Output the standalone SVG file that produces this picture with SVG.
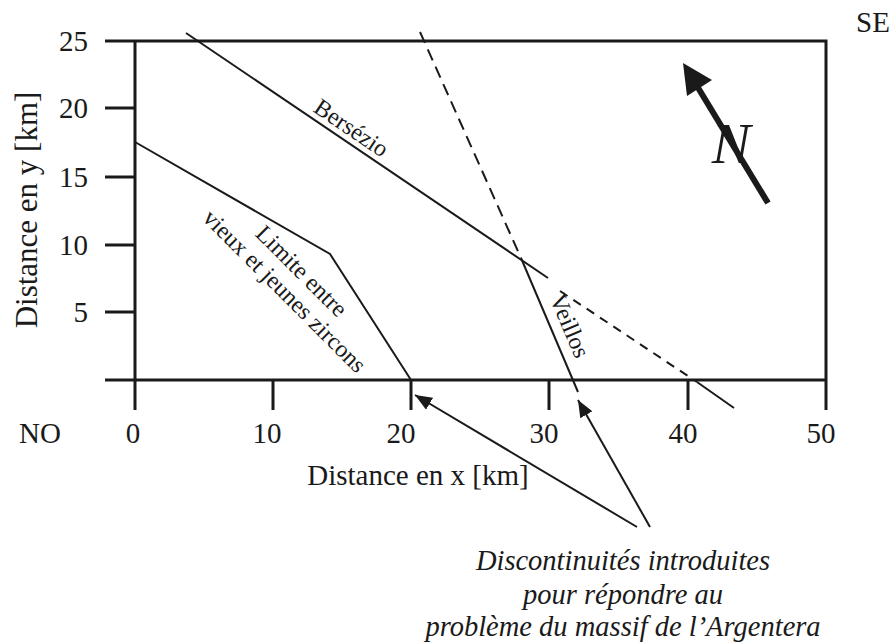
<svg xmlns="http://www.w3.org/2000/svg" width="893" height="643" viewBox="0 0 893 643" font-family="Liberation Serif, DejaVu Serif, serif">
<style>
text{font-family:'Liberation Serif','DejaVu Serif',serif;fill:#1a1a1a}
.t{font-size:29px}
.lbl{font-size:24px}
.it{font-size:28.5px;font-style:italic}
.ax{stroke:#1a1a1a;stroke-width:3;fill:none}
.ln{stroke:#1a1a1a;stroke-width:2;fill:none}
.ds{stroke:#1a1a1a;stroke-width:2;fill:none;stroke-dasharray:12 7}
.ds2{stroke:#1a1a1a;stroke-width:2;fill:none;stroke-dasharray:9 7}
</style>
<defs>
<marker id="ah" markerUnits="userSpaceOnUse" markerWidth="18" markerHeight="14" refX="17" refY="7" orient="auto">
<path d="M0,0 L17,7 L0,14 z" fill="#1a1a1a"/>
</marker>
</defs>
<rect width="893" height="643" fill="#fff"/>
<g id="axes">
<path class="ax" d="M105,41 H826 V410 M105,380 H826 M135,41 V410"/>
<path class="ax" d="M105,108 H135 M105,177 H135 M105,245 H135 M105,312 H135"/>
<path class="ax" d="M273,380 V410 M411,380 V410 M549,380 V410 M688,380 V410"/>
<text class="t" x="88" y="51" text-anchor="end">25</text>
<text class="t" x="88" y="118" text-anchor="end">20</text>
<text class="t" x="88" y="187" text-anchor="end">15</text>
<text class="t" x="88" y="255" text-anchor="end">10</text>
<text class="t" x="88" y="322" text-anchor="end">5</text>
<text class="t" x="133" y="443" text-anchor="middle">0</text>
<text class="t" x="267" y="443" text-anchor="middle">10</text>
<text class="t" x="401" y="443" text-anchor="middle">20</text>
<text class="t" x="544" y="443" text-anchor="middle">30</text>
<text class="t" x="683" y="443" text-anchor="middle">40</text>
<text class="t" x="821" y="443" text-anchor="middle">50</text>
<text class="t" x="40" y="443" text-anchor="middle">NO</text>
<text class="t" x="873" y="32" text-anchor="middle">SE</text>
<text class="t" x="418" y="485" text-anchor="middle">Distance en x [km]</text>
<text class="t" transform="translate(37,210) rotate(-90)" text-anchor="middle" style="font-size:31px">Distance en y [km]</text>
</g>
<g id="bersezio">
<path class="ln" d="M186,33 L548,278"/>
<text class="lbl" transform="translate(347,134.6) rotate(34)" text-anchor="middle">Bersézio</text>
</g>
<g id="limite">
<path class="ln" d="M135,142 L330,254 L411,380"/>
<text class="lbl" transform="translate(296,276.7) rotate(45)" text-anchor="middle">Limite entre</text>
<text class="lbl" transform="translate(279,296.7) rotate(45)" text-anchor="middle">vieux et jeunes zircons</text>
</g>
<g id="veillos">
<path class="ds" d="M420,32 L521,258"/>
<path class="ln" d="M521,258 L578,392"/>
<text class="lbl" transform="translate(562.6,329) rotate(67)" text-anchor="middle">Veillos</text>
</g>
<g id="discontinuite">
<path class="ds2" d="M560,291 L697,382"/>
<path class="ln" d="M697,382 L734,408"/>
</g>
<g id="north">
<path d="M768,203 L697,86" stroke="#1a1a1a" stroke-width="6" fill="none"/>
<polygon points="683,63 687,96 712,80" fill="#1a1a1a"/>
<text x="731" y="163" text-anchor="middle" style="font-size:58px;font-style:italic">N</text>
</g>
<g id="connectors">
<path class="ln" d="M637,527 L415,395" marker-end="url(#ah)"/>
<path class="ln" d="M650,527 L578,400" marker-end="url(#ah)"/>
</g>
<g id="note">
<text class="it" x="623" y="570" text-anchor="middle">Discontinuités introduites</text>
<text class="it" x="623" y="604" text-anchor="middle">pour répondre au</text>
<text class="it" x="623" y="636" text-anchor="middle">problème du massif de l’Argentera</text>
</g>
</svg>
